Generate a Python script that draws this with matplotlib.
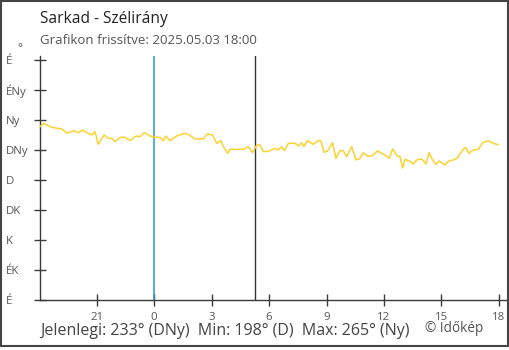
import matplotlib
matplotlib.use("Agg")
import matplotlib.pyplot as plt
from matplotlib.patches import Rectangle

plt.rcParams['font.family'] = ['Open Sans', 'DejaVu Sans']

# Hours relative to midnight of 2025-05-03 (negative = previous evening)
hours = [-5.95, -5.77, -5.34, -4.81, -4.55, -4.21, -3.95, -3.72, -3.43, -3.25,
         -3.08, -2.91, -2.61, -2.38, -2.21, -2.03, -1.77, -1.51, -1.25, -0.94,
         -0.73, -0.51, -0.25, 0.00, 0.31, 0.49, 0.61, 0.83, 1.18, 1.62,
         1.84, 2.14, 2.57, 2.78, 3.06, 3.27, 3.48, 3.67, 3.84, 3.96,
         4.23, 4.66, 4.92, 5.15, 5.36, 5.53, 5.70, 5.96, 6.31, 6.48,
         6.66, 6.80, 7.01, 7.36, 7.53, 7.70, 7.82, 8.00, 8.31, 8.57,
         8.70, 8.87, 9.06, 9.32, 9.49, 9.70, 9.87, 10.05, 10.31, 10.54,
         10.75, 10.92, 11.13, 11.36, 11.67, 11.88, 12.05, 12.28, 12.45, 12.62,
         12.74, 12.83, 12.97, 13.09, 13.32, 13.53, 13.70, 13.96, 14.19, 14.35,
         14.54, 14.71, 14.88, 15.18, 15.39, 15.61, 15.82, 16.10, 16.26, 16.43,
         16.66, 16.92, 17.15, 17.44, 17.70, 17.96]
# Wind direction in degrees
direction = [260, 265, 259, 256.5, 250, 254, 251, 255, 250, 247.5,
             252.5, 233.5, 247.5, 242.5, 242.5, 237.5, 244, 244, 239, 246,
             245, 251, 246.5, 244, 244, 239, 246, 239, 246, 250,
             247.5, 241.5, 241.5, 249, 247.5, 235, 239, 227.5, 220, 226,
             226, 226, 230, 221, 232.5, 232.5, 222.5, 223, 227.5, 225,
             230, 224, 235, 235, 231, 236, 230, 239, 233.5, 239,
             239, 221.5, 223.5, 236, 212.5, 224, 224, 215, 230, 210,
             212.5, 221, 216, 216, 223.5, 220, 217.5, 212.5, 226.5, 219,
             215, 216, 198, 211, 208.5, 204, 210, 211.5, 204, 221,
             210, 203.5, 208.5, 202.5, 208.5, 210, 212.5, 225, 229, 220,
             225, 226, 236, 239, 235, 233]

x_ticks = [-3, 0, 3, 6, 9, 12, 15, 18]
x_labels = ['21', '0', '3', '6', '9', '12', '15', '18']
y_ticks = [0, 45, 90, 135, 180, 225, 270, 315, 360]
y_labels = ['É', 'ÉK', 'K', 'DK', 'D', 'DNy', 'Ny', 'ÉNy', 'É']

midnight = 0.0
sunrise = 5.27

title = 'Sarkad - Szélirány'
subtitle = 'Grafikon frissítve: 2025.05.03 18:00'
summary = 'Jelenlegi: 233° (DNy)  Min: 198° (D)  Max: 265° (Ny)'
credit = '© Időkép'

W, H = 510, 350
fig = plt.figure(figsize=(W / 100, H / 100), dpi=100)
fig.patch.set_facecolor('white')

def fx(px):
    return px / W

def fy(py):
    return 1 - py / H

ax = fig.add_axes([fx(40), fy(300), fx(508) - fx(40), fy(56) - fy(300)])
ax.set_xlim(-5.95, 18.47)
ax.set_ylim(0, 366)

axc = '#3a3a3a'
for s in ['top', 'right']:
    ax.spines[s].set_visible(False)
for s in ['left', 'bottom']:
    ax.spines[s].set_color(axc)
    ax.spines[s].set_linewidth(1.0)

ax.axvline(midnight, color='#2b95d8', lw=1.1, zorder=2)
ax.axvline(sunrise, color='#333333', lw=1.0, zorder=2)
ax.plot(hours, direction, color='#fad232', lw=1.1, zorder=3)

tl = 12 * 0.72
ax.set_xticks(x_ticks)
ax.set_xticklabels(x_labels)
ax.set_yticks(y_ticks)
ax.set_yticklabels(y_labels)
ax.tick_params(axis='both', direction='inout', length=tl, width=1.0,
               color=axc, labelcolor='#555555', labelsize=8.2)
ax.tick_params(axis='x', pad=4.0)
ax.tick_params(axis='y', pad=34 * 0.72 - tl / 2)
for lab in ax.get_yticklabels():
    lab.set_horizontalalignment('left')

fig.text(fx(17), fy(49), '°', fontsize=8.2, color='#555555', ha='left', va='center')

fig.text(fx(40), fy(19), title, fontsize=11.2, color='#222222', ha='left', va='center')
fig.text(fx(40), fy(41), subtitle, fontsize=9.5, color='#555555', ha='left', va='center')
fig.text(fx(40), fy(331), summary, fontsize=11.5, color='#444444', ha='left', va='center')
fig.text(fx(425), fy(329), credit, fontsize=9.8, color='#555555', ha='left', va='center')

fig.patches.append(Rectangle((fx(1), fy(345.5)), fx(508) - fx(1), fy(1) - fy(345.5),
                             transform=fig.transFigure, fill=False,
                             edgecolor='#444444', lw=1.5, zorder=10))

fig.savefig('out.png', dpi=100)
